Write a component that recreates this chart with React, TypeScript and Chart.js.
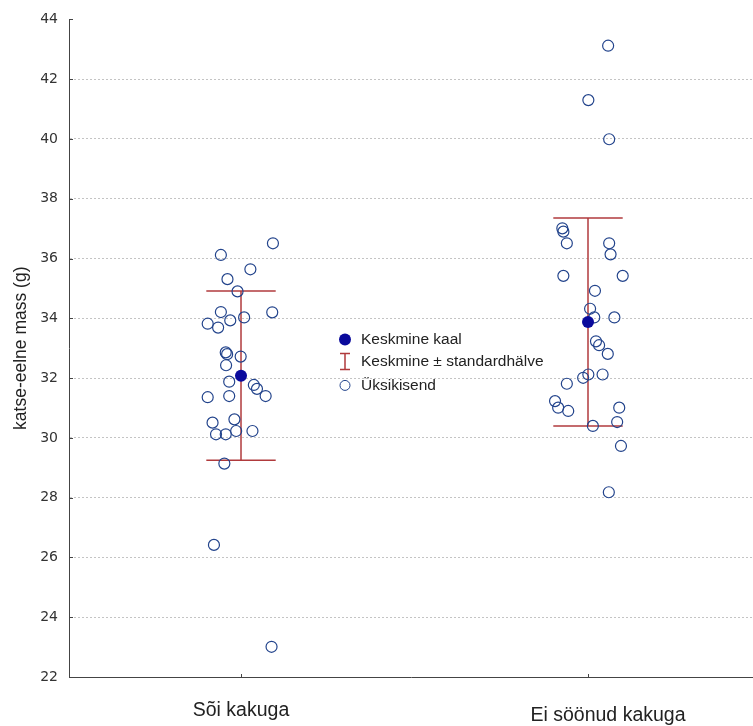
import React, { useEffect, useRef } from "react";
import { Chart, registerables } from "chart.js";

Chart.register(...registerables);

// ---------- data ----------
const categories = ["Sõi kakuga", "Ei söönud kakuga"];
const yAxisTitle = "katse-eelne mass (g)";
const yMin = 22;
const yMax = 44;
const yStep = 2;

// individual animals, group 1 (ate cake)
const group1Values = [
  36.51, 36.12, 35.64, 35.31, 34.9, 34.2, 34.21, 34.03, 33.93, 33.82, 33.69, 32.86, 32.8, 32.72, 32.43,
  31.88, 31.77, 31.64, 31.4, 31.4, 31.36, 30.62, 30.51, 30.23, 30.23, 30.12, 30.12, 29.14, 26.42, 23.01,
];
// horizontal jitter (category units) of each point of group 1
const group1Jitter = [
  0.092, -0.058, 0.027, -0.039, -0.01, 0.09, -0.058, 0.009, -0.031, -0.096, -0.066, -0.044, -0.04, -0.001, -0.043,
  -0.034, 0.037, 0.046, 0.071, -0.034, -0.096, -0.019, -0.082, -0.014, 0.033, -0.072, -0.044, -0.048, -0.078, 0.088,
];

// individual animals, group 2 (did not eat cake)
const group2Values = [
  43.12, 41.3, 39.99, 37.01, 36.9, 36.51, 36.51, 36.14, 35.42, 35.42, 34.92, 34.32, 34.03, 34.03, 33.23,
  33.1, 32.81, 32.12, 32.01, 32.12, 31.81, 31.23, 31.01, 30.9, 31.01, 30.53, 30.4, 29.73, 28.18,
];
const group2Jitter = [
  0.058, 0.001, 0.061, -0.074, -0.071, -0.061, 0.061, 0.065, -0.071, 0.1, 0.02, 0.006, 0.018, 0.076, 0.023,
  0.032, 0.057, 0.001, -0.014, 0.042, -0.061, -0.095, -0.086, -0.057, 0.09, 0.084, 0.014, 0.095, 0.06,
];

const groupMeans = [32.08, 33.88];
const groupSDs = [2.83, 3.48];

const legendLabels = ["Keskmine kaal", "Keskmine ± standardhälve", "Üksikisend"];

// ---------- styles ----------
const POINT_COLOR = "#23448c";
const MEAN_COLOR = "#0a0a9c";
const BAR_COLOR = "#b03a3c";
const CAP_HALF = 0.1; // category units
const FONT_TEXT = "'Liberation Sans', Arial, sans-serif";
const FONT_TICK = "'DejaVu Sans', sans-serif";
const CAT_LABEL_DX = [0, 20]; // px nudges of category labels
const CAT_LABEL_DY = [34, 39]; // px below the axis line

const innerTicks = {
  id: "innerTicks",
  afterDraw(chart: any) {
    const { ctx, chartArea, scales } = chart;
    ctx.save();
    ctx.strokeStyle = "#444";
    ctx.lineWidth = 1;
    ctx.beginPath();
    scales.y.ticks.forEach((t: any) => {
      const y = Math.round(scales.y.getPixelForValue(t.value)) + 0.5;
      ctx.moveTo(chartArea.left, y);
      ctx.lineTo(chartArea.left + 4, y);
    });
    scales.x.ticks.forEach((t: any) => {
      const x = Math.round(scales.x.getPixelForValue(t.value)) + 0.5;
      ctx.moveTo(x, chartArea.bottom);
      ctx.lineTo(x, chartArea.bottom - 3);
    });
    ctx.stroke();
    // category labels
    ctx.fillStyle = "#222";
    ctx.font = `19.5px ${FONT_TEXT}`;
    ctx.textAlign = "center";
    ctx.textBaseline = "middle";
    categories.forEach((c, i) => {
      const x = scales.x.getPixelForValue(i + 1) + CAT_LABEL_DX[i];
      ctx.fillText(c, x, chartArea.bottom + CAT_LABEL_DY[i]);
    });
    ctx.restore();
  },
};

const customLegend = {
  id: "customLegend",
  afterDraw(chart: any) {
    const { ctx, chartArea } = chart;
    const mx = chartArea.left + 276;
    const tx = chartArea.left + 292;
    const rows = [chartArea.top + 320, chartArea.top + 342, chartArea.top + 366];
    ctx.save();
    ctx.fillStyle = MEAN_COLOR;
    ctx.beginPath();
    ctx.arc(mx, rows[0], 6, 0, Math.PI * 2);
    ctx.fill();
    ctx.strokeStyle = BAR_COLOR;
    ctx.lineWidth = 1.5;
    ctx.beginPath();
    ctx.moveTo(mx - 5, rows[1] - 8);
    ctx.lineTo(mx + 5, rows[1] - 8);
    ctx.moveTo(mx, rows[1] - 8);
    ctx.lineTo(mx, rows[1] + 8);
    ctx.moveTo(mx - 5, rows[1] + 8);
    ctx.lineTo(mx + 5, rows[1] + 8);
    ctx.stroke();
    ctx.strokeStyle = POINT_COLOR;
    ctx.lineWidth = 1;
    ctx.beginPath();
    ctx.arc(mx, rows[2], 5, 0, Math.PI * 2);
    ctx.stroke();
    ctx.fillStyle = "#222";
    ctx.font = `15.5px ${FONT_TEXT}`;
    ctx.textBaseline = "middle";
    ctx.textAlign = "left";
    legendLabels.forEach((l, i) => ctx.fillText(l, tx, rows[i]));
    ctx.restore();
  },
};

export default function App() {
  const ref = useRef<HTMLCanvasElement>(null);

  useEffect(() => {
    if (!ref.current) return;

    const points = [
      ...group1Values.map((v, i) => ({ x: 1 + group1Jitter[i], y: v })),
      ...group2Values.map((v, i) => ({ x: 2 + group2Jitter[i], y: v })),
    ];
    const meanPts = groupMeans.map((m, i) => ({ x: i + 1, y: m }));

    const barSets: any[] = [];
    groupMeans.forEach((m, i) => {
      const c = i + 1;
      const lo = m - groupSDs[i];
      const hi = m + groupSDs[i];
      const segs = [
        [{ x: c, y: lo }, { x: c, y: hi }],
        [{ x: c - CAP_HALF, y: hi }, { x: c + CAP_HALF, y: hi }],
        [{ x: c - CAP_HALF, y: lo }, { x: c + CAP_HALF, y: lo }],
      ];
      segs.forEach((s) =>
        barSets.push({
          type: "line",
          label: legendLabels[1],
          data: s,
          borderColor: BAR_COLOR,
          borderWidth: 1.5,
          pointRadius: 0,
          showLine: true,
          fill: false,
          order: 2,
        })
      );
    });

    const chart = new Chart(ref.current, {
      type: "scatter",
      data: {
        datasets: [
          {
            label: legendLabels[0],
            data: meanPts,
            pointRadius: 6,
            pointBackgroundColor: MEAN_COLOR,
            pointBorderColor: MEAN_COLOR,
            borderWidth: 0,
            order: 0,
          },
          {
            label: legendLabels[2],
            data: points,
            pointRadius: 5.5,
            pointBackgroundColor: "rgba(0,0,0,0)",
            pointBorderColor: POINT_COLOR,
            pointBorderWidth: 1.2,
            order: 1,
          },
          ...barSets,
        ],
      },
      options: {
        responsive: false,
        animation: false,
        layout: { autoPadding: false, padding: { top: 17, left: 0, right: 0, bottom: 0 } },
        plugins: { legend: { display: false }, tooltip: { enabled: false } },
        scales: {
          x: {
            type: "linear",
            min: 0.5043,
            max: 2.4755,
            afterBuildTicks: (scale: any) => {
              scale.ticks = categories.map((_, i) => ({ value: i + 1 }));
            },
            afterFit: (scale: any) => {
              scale.height = 49;
            },
            ticks: { display: false },
            grid: { display: false, drawTicks: false },
            border: { display: true, color: "#444", width: 1 },
          },
          y: {
            min: yMin,
            max: yMax,
            afterFit: (scale: any) => {
              scale.width = 69;
            },
            ticks: {
              stepSize: yStep,
              font: { family: FONT_TICK, size: 14 },
              color: "#333",
              padding: 11,
            },
            grid: {
              drawTicks: false,
              color: (ctx: any) =>
                ctx.tick && (ctx.tick.value === yMin || ctx.tick.value === yMax) ? "rgba(0,0,0,0)" : "#c4c4c4",
              lineWidth: 1,
            },
            border: { display: true, color: "#444", width: 1, dash: [2, 2] },
            title: {
              display: true,
              text: yAxisTitle,
              font: { family: FONT_TEXT, size: 17.5 },
              color: "#222",
              padding: { top: 11, bottom: 0 },
            },
          },
        },
      },
      plugins: [innerTicks, customLegend],
    });

    return () => chart.destroy();
  }, []);

  return (
    <div style={{ position: "absolute", left: 0, top: 0, width: 753, height: 726, background: "#fff" }}>
      <canvas ref={ref} width={753} height={726} />
    </div>
  );
}
